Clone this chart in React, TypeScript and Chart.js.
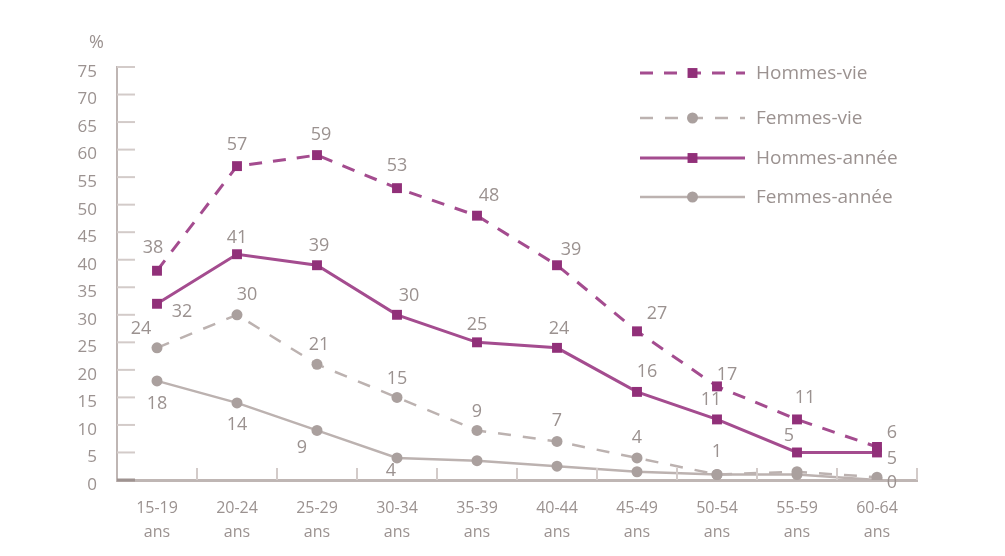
import React, { useEffect, useRef } from 'react';
import { Chart, registerables } from 'chart.js';

Chart.register(...registerables);

// Age groups (two-line tick labels)
const ageGroups: string[][] = [
  ['15-19', 'ans'], ['20-24', 'ans'], ['25-29', 'ans'], ['30-34', 'ans'], ['35-39', 'ans'],
  ['40-44', 'ans'], ['45-49', 'ans'], ['50-54', 'ans'], ['55-59', 'ans'], ['60-64', 'ans'],
];

// Percentages per series
const hommesVie = [38, 57, 59, 53, 48, 39, 27, 17, 11, 6];
const femmesVie = [24, 30, 21, 15, 9, 7, 4, 1, 1.5, 0.5];
const hommesAnnee = [32, 41, 39, 30, 25, 24, 16, 11, 5, 5];
const femmesAnnee = [18, 14, 9, 4, 3.5, 2.5, 1.5, 1, 1, 0];

// Y axis tick values
const yTickValues = [0, 5, 10, 15, 20, 25, 30, 35, 40, 45, 50, 55, 60, 65, 70, 75];

// Which points carry a value label
const showHommesVie = [true, true, true, true, true, true, true, true, true, true];
const showFemmesVie = [true, true, true, true, true, true, true, true, false, false];
const showHommesAnnee = [true, true, true, true, true, true, true, true, true, true];
const showFemmesAnnee = [true, true, true, true, false, false, false, false, false, true];

// Label offsets (dx, dy) relative to each point
const offHommesVie: [number, number][] = [[-4, -23], [0, -21], [4, -20], [0, -22], [12, -20], [14, -15], [20, -17], [10, -12], [8, -22], [15, -14]];
const offFemmesVie: [number, number][] = [[-16, -19], [10, -20], [2, -19], [0, -19], [0, -19], [0, -21], [0, -20], [0, -23], [0, 0], [0, 0]];
const offHommesAnnee: [number, number][] = [[25, 8], [0, -16], [2, -19], [12, -19], [0, -17], [2, -19], [10, -20], [-6, -20], [-8, -17], [15, 6]];
const offFemmesAnnee: [number, number][] = [[0, 23], [0, 22], [-15, 17], [-6, 13], [0, 0], [0, 0], [0, 0], [0, 0], [0, 0], [15, 3]];

const MAGENTA_LINE = '#a44c8f';
const MAGENTA_POINT = '#913079';
const GRAY_LINE = '#bcb2b0';
const GRAY_POINT = '#aaa09e';
const TEXT = '#9b9290';
const AXIS = '#bfb6b4';
const FONT = '"Open Sans", "DejaVu Sans", sans-serif';

const decorPlugin = {
  id: 'decor',
  afterDraw(chart: any) {
    const ctx: CanvasRenderingContext2D = chart.ctx;
    const { left, bottom } = chart.chartArea;
    const y = chart.scales.y;
    const x = chart.scales.x;
    ctx.save();

    // short inward tick marks on the value axis
    ctx.strokeStyle = '#d3cbc9';
    ctx.lineWidth = 2;
    yTickValues.forEach((v) => {
      if (v === 0) return;
      const py = y.getPixelForValue(v);
      ctx.beginPath();
      ctx.moveTo(left, py);
      ctx.lineTo(left + 18, py);
      ctx.stroke();
    });
    ctx.strokeStyle = '#9e9391';
    ctx.lineWidth = 3;
    ctx.beginPath();
    ctx.moveTo(left, bottom);
    ctx.lineTo(left + 18, bottom);
    ctx.stroke();

    // short tick marks between categories
    ctx.strokeStyle = '#d3cbc9';
    ctx.lineWidth = 2;
    const step = x.getPixelForValue(1) - x.getPixelForValue(0);
    for (let i = 0; i < ageGroups.length; i++) {
      const px = x.getPixelForValue(i) + step / 2;
      ctx.beginPath();
      ctx.moveTo(px, bottom);
      ctx.lineTo(px, bottom - 12);
      ctx.stroke();
    }

    // unit label
    ctx.fillStyle = TEXT;
    ctx.font = `18px ${FONT}`;
    ctx.textAlign = 'right';
    ctx.textBaseline = 'middle';
    ctx.fillText('%', left - 13, chart.chartArea.top - 24);

    // value labels
    ctx.font = `18px ${FONT}`;
    ctx.textAlign = 'center';
    chart.data.datasets.forEach((ds: any, di: number) => {
      const meta = chart.getDatasetMeta(di);
      meta.data.forEach((pt: any, j: number) => {
        if (!ds.showLabel[j]) return;
        const [dx, dy] = ds.labelOffset[j];
        ctx.fillText(String(ds.data[j]), pt.x + dx, pt.y + dy);
      });
    });

    // legend
    const lx0 = 640;
    const lx1 = 745;
    const rows = [73, 118, 158, 197];
    chart.data.datasets.forEach((ds: any, di: number) => {
      const ry = rows[di];
      ctx.strokeStyle = ds.borderColor;
      ctx.lineWidth = ds.borderWidth;
      ctx.setLineDash(ds.borderDash || []);
      ctx.lineDashOffset = 0;
      ctx.beginPath();
      ctx.moveTo(lx0, ry);
      ctx.lineTo(lx1, ry);
      ctx.stroke();
      ctx.setLineDash([]);
      const mx = (lx0 + lx1) / 2;
      ctx.fillStyle = ds.pointBackgroundColor;
      if (ds.pointStyle === 'rect') {
        const s = ds.pointRadius * Math.SQRT1_2;
        ctx.fillRect(mx - s, ry - s, 2 * s, 2 * s);
      } else {
        ctx.beginPath();
        ctx.arc(mx, ry, ds.pointRadius, 0, Math.PI * 2);
        ctx.fill();
      }
      ctx.fillStyle = TEXT;
      ctx.font = `19px ${FONT}`;
      ctx.textAlign = 'left';
      ctx.textBaseline = 'middle';
      ctx.fillText(ds.label, 756, ry + 1);
    });

    ctx.restore();
  },
};

export default function App() {
  const canvasRef = useRef<HTMLCanvasElement | null>(null);

  useEffect(() => {
    document.body.style.margin = '0';
    const canvas = canvasRef.current;
    if (!canvas) return;
    const chart = new Chart(canvas, {
      type: 'line',
      data: {
        labels: ageGroups,
        datasets: [
          {
            label: 'Hommes-vie',
            data: hommesVie,
            borderColor: MAGENTA_LINE,
            borderWidth: 3,
            borderDash: [13, 11],
            pointStyle: 'rect',
            pointRadius: 7,
            pointBackgroundColor: MAGENTA_POINT,
            pointBorderWidth: 0,
            showLabel: showHommesVie,
            labelOffset: offHommesVie,
          } as any,
          {
            label: 'Femmes-vie',
            data: femmesVie,
            borderColor: GRAY_LINE,
            borderWidth: 2.5,
            borderDash: [13, 12],
            pointStyle: 'circle',
            pointRadius: 5.5,
            pointBackgroundColor: GRAY_POINT,
            pointBorderWidth: 0,
            showLabel: showFemmesVie,
            labelOffset: offFemmesVie,
          } as any,
          {
            label: 'Hommes-année',
            data: hommesAnnee,
            borderColor: MAGENTA_LINE,
            borderWidth: 3,
            pointStyle: 'rect',
            pointRadius: 7,
            pointBackgroundColor: MAGENTA_POINT,
            pointBorderWidth: 0,
            showLabel: showHommesAnnee,
            labelOffset: offHommesAnnee,
          } as any,
          {
            label: 'Femmes-année',
            data: femmesAnnee,
            borderColor: GRAY_LINE,
            borderWidth: 2.5,
            pointStyle: 'circle',
            pointRadius: 5.5,
            pointBackgroundColor: GRAY_POINT,
            pointBorderWidth: 0,
            showLabel: showFemmesAnnee,
            labelOffset: offFemmesAnnee,
          } as any,
        ],
      },
      options: {
        responsive: false,
        animation: false,
        layout: { padding: { top: 67, right: 88, left: 0, bottom: 0 } },
        plugins: {
          legend: { display: false },
          tooltip: { enabled: false },
        },
        scales: {
          x: {
            type: 'category',
            offset: true,
            grid: { display: false },
            border: { display: true, color: AXIS, width: 3 },
            ticks: {
              color: TEXT,
              font: { family: FONT, size: 16, lineHeight: 1.5 },
              padding: 8,
              maxRotation: 0,
              autoSkip: false,
            },
            afterFit: (s: any) => { s.height = 76; },
          },
          y: {
            min: 0,
            max: 75,
            grid: { display: false },
            border: { display: true, color: AXIS, width: 2 },
            afterBuildTicks: (s: any) => { s.ticks = yTickValues.map((v) => ({ value: v })); },
            ticks: {
              color: TEXT,
              font: { family: FONT, size: 17 },
              padding: 12,
              labelOffset: 5,
            },
            afterFit: (s: any) => { s.width = 117; },
          },
        },
      },
      plugins: [decorPlugin],
    });
    return () => chart.destroy();
  }, []);

  return <canvas ref={canvasRef} width={1005} height={556} style={{ display: 'block' }} />;
}
